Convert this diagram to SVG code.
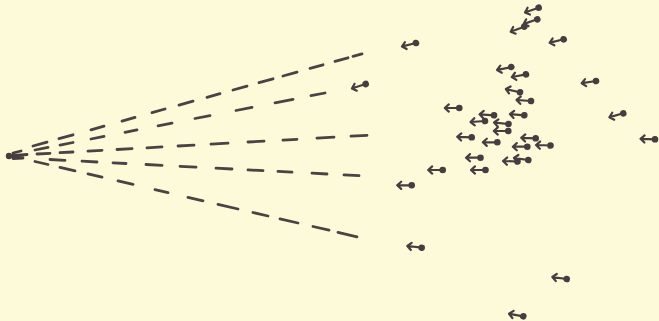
<svg xmlns="http://www.w3.org/2000/svg" xmlns:xlink="http://www.w3.org/1999/xlink" width="659" height="321" viewBox="0 0 659 321">
<style>
.dash{fill:none;stroke:#4a4244;stroke-width:2.8;stroke-linecap:round}
.ar path{fill:none;stroke:#463d40;stroke-width:2.2;stroke-linecap:round;stroke-linejoin:round}
.ar circle{fill:#463d40}
</style>
<defs>
<g id="a" class="ar">
<path d="M0,0 H-14 M-10.5,-3.6 L-14.5,0 L-10.5,3.6"/>
<circle cx="0" cy="0" r="3.3"/>
</g>
</defs>
<rect width="659" height="321" fill="#fcfad8"/>
<g id="origin">
<circle cx="9" cy="156" r="3.2" fill="#463d40"/>
<path d="M9,156 L27,154.5 M13,153 L21,151 M13,158.5 L23,158" fill="none" stroke="#463d40" stroke-width="2.8" stroke-linecap="round"/>
</g>
<g id="connectors">
<path class="dash" d="M33,146 L47,142.1 M59,138.7 L73,134.8 M91,129.8 L104,126.1 M122,121.1 L135,117.4 M152,112.7 L165,109 M179,105.1 L193,101.2 M207,97.3 L220,93.6 M233,90 L247,86.1 M259,82.7 L273,78.8 M283,76 L297,72.1 M310,68.4 L323,64.8 M335,61.4 L348,57.8 M353,56.4 L362,53.9"/>
<path class="dash" d="M35,150 L48,147.4 M60,145.1 L73,142.5 M91,139 L104,136.4 M125,132.3 L137,129.9 M158,125.8 L172,123.1 M195,118.5 L210,115.6 M236,110.5 L252,107.3 M275,102.8 L293,99.3 M311,95.7 L325,93"/>
<path class="dash" d="M37,154 L50,153.3 M60,152.7 L73,152 M88,151.1 L102,150.3 M117,149.5 L132,148.6 M147,147.8 L162,146.9 M178,146 L194,145.1 M211,144.1 L228,143.2 M248,142 L264,141.1 M283,140.1 L297,139.3 M317,138.1 L334,137.2 M351,136.2 L367,135.3"/>
<path class="dash" d="M50,159.5 L65,160.3 M82,161.2 L97,162 M113,162.8 L126,163.5 M146,164.5 L162,165.4 M180,166.3 L196,167.1 M216,168.2 L232,169 M248,169.9 L263,170.7 M278,171.4 L292,172.2 M312,173.2 L327,174 M344,174.9 L359,175.7"/>
<path class="dash" d="M35,161.5 L48,164.5 M60,167.3 L75,170.9 M88,173.9 L102,177.2 M118,180.9 L133,184.4 M155,189.6 L168,192.6 M188,197.3 L203,200.8 M218,204.3 L238,209 M253,212.5 L268,216 M280,218.8 L298,223 M313,226.5 L329,230.2 M338,232.3 L357,236.8"/>
</g>
<g id="arrows">
<use xlink:href="#a" transform="translate(538.7,7.7) rotate(-19)"/>
<use xlink:href="#a" transform="translate(537.3,19.3) rotate(-19)"/>
<use xlink:href="#a" transform="translate(524.3,26.7) rotate(-20)"/>
<use xlink:href="#a" transform="translate(416,43) rotate(-14)"/>
<use xlink:href="#a" transform="translate(563.7,39.3) rotate(-14)"/>
<use xlink:href="#a" transform="translate(511.3,67) rotate(-12)"/>
<use xlink:href="#a" transform="translate(526,74.3) rotate(-11)"/>
<use xlink:href="#a" transform="translate(596,81) rotate(-9)"/>
<use xlink:href="#a" transform="translate(520,92.3) rotate(13)"/>
<use xlink:href="#a" transform="translate(531,101) rotate(4)"/>
<use xlink:href="#a" transform="translate(459.3,108) rotate(0)"/>
<use xlink:href="#a" transform="translate(365.7,84) rotate(-18)"/>
<use xlink:href="#a" transform="translate(623.3,113.3) rotate(-16)"/>
<use xlink:href="#a" transform="translate(655,139.3) rotate(2)"/>
<use xlink:href="#a" transform="translate(494,115.3) rotate(4)"/>
<use xlink:href="#a" transform="translate(524.3,115.3) rotate(5)"/>
<use xlink:href="#a" transform="translate(485,121) rotate(-4)"/>
<use xlink:href="#a" transform="translate(508.5,124) rotate(6)"/>
<use xlink:href="#a" transform="translate(508.3,131) rotate(0)"/>
<use xlink:href="#a" transform="translate(471.7,137.3) rotate(2)"/>
<use xlink:href="#a" transform="translate(497.3,142.3) rotate(0)"/>
<use xlink:href="#a" transform="translate(535.7,138.3) rotate(2)"/>
<use xlink:href="#a" transform="translate(527.3,146.7) rotate(0)"/>
<use xlink:href="#a" transform="translate(550.5,145.5) rotate(2)"/>
<use xlink:href="#a" transform="translate(480.5,157.7) rotate(0)"/>
<use xlink:href="#a" transform="translate(517.5,161.5) rotate(2)"/>
<use xlink:href="#a" transform="translate(528.3,160) rotate(8)"/>
<use xlink:href="#a" transform="translate(485.5,170) rotate(0)"/>
<use xlink:href="#a" transform="translate(442.7,170) rotate(0)"/>
<use xlink:href="#a" transform="translate(411.7,185.3) rotate(0)"/>
<use xlink:href="#a" transform="translate(421.7,247.7) rotate(7)"/>
<use xlink:href="#a" transform="translate(566.7,279) rotate(8)"/>
<use xlink:href="#a" transform="translate(523.3,316.3) rotate(10)"/>
</g>
</svg>
